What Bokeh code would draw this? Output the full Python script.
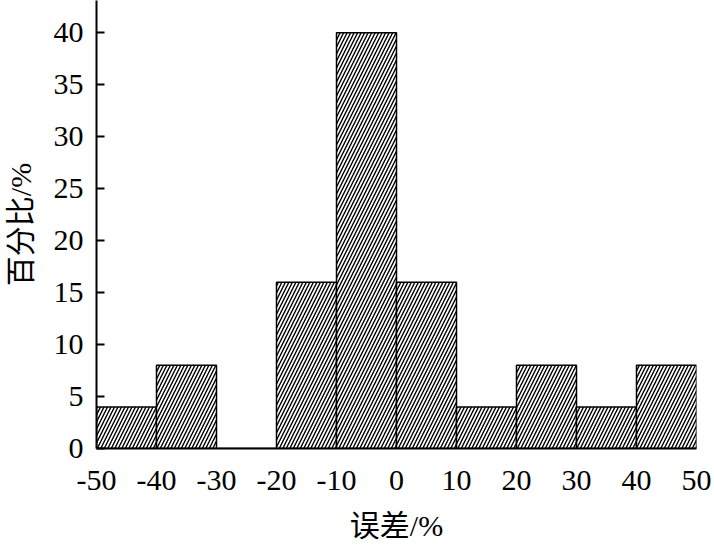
from bokeh.plotting import figure
from bokeh.embed import file_html
from bokeh.resources import INLINE
from bokeh.models import ColumnDataSource, FixedTicker, Range1d, PrintfTickFormatter

bin_left = [-50, -40, -30, -20, -10, 0, 10, 20, 30, 40]
bin_right = [-40, -30, -20, -10, 0, 10, 20, 30, 40, 50]
percent = [4, 8, 0, 16, 40, 16, 4, 8, 4, 8]
x_ticks = [-50, -40, -30, -20, -10, 0, 10, 20, 30, 40, 50]
y_ticks = [0, 5, 10, 15, 20, 25, 30, 35, 40]
x_title = "误差/%"
y_title = "百分比/%"

src = ColumnDataSource(dict(left=bin_left, right=bin_right, top=percent,
                            bottom=[0] * len(percent)))

p = figure(width=714, height=546, output_backend="svg", toolbar_location=None,
           x_range=Range1d(-50, 50), y_range=Range1d(0, 43.1),
           min_border_left=96, min_border_right=18, min_border_top=0,
           min_border_bottom=98)
p.outline_line_color = None
p.xgrid.visible = False
p.ygrid.visible = False
p.background_fill_color = "white"

p.quad(left="left", right="right", top="top", bottom="bottom", source=src,
       fill_color="white", line_color="black", line_width=1.5,
       hatch_pattern="/", hatch_color="black", hatch_scale=7, hatch_weight=1.4)

font = "Liberation Serif, Noto Sans CJK SC"
p.xaxis.ticker = FixedTicker(ticks=x_ticks)
p.yaxis.ticker = FixedTicker(ticks=y_ticks)
for ax in (p.xaxis[0], p.yaxis[0]):
    ax.formatter = PrintfTickFormatter(format="%d")
    ax.axis_line_width = 2
    ax.axis_line_color = "black"
    ax.major_label_text_font = font
    ax.major_label_text_font_size = "30px"
    ax.major_label_text_color = "black"
    ax.minor_tick_line_color = None
    ax.major_tick_line_width = 2
    ax.axis_label_text_font = font
    ax.axis_label_text_font_size = "30px"
    ax.axis_label_text_font_style = "normal"
    ax.axis_label_text_color = "black"

p.xaxis.major_tick_in = 0
p.xaxis.major_tick_out = 0
p.xaxis.major_label_standoff = 22
p.xaxis.axis_label = x_title
p.xaxis.axis_label_standoff = 16

p.yaxis.major_tick_in = 8
p.yaxis.major_tick_out = 0
p.yaxis.major_label_standoff = 13
p.yaxis.axis_label = y_title
p.yaxis.axis_label_standoff = 14

open("out.html", "w").write(file_html(p, INLINE))
